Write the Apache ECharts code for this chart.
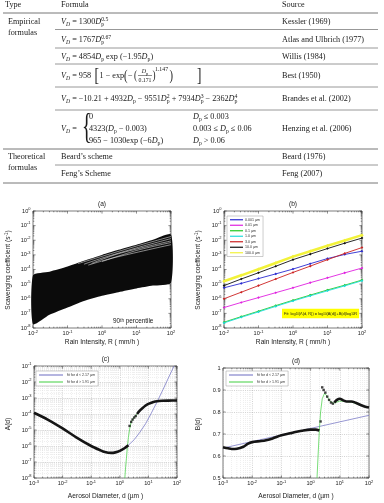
<!DOCTYPE html>
<html><head><meta charset="utf-8">
<script src="https://cdn.jsdelivr.net/npm/echarts@6/dist/echarts.min.js"></script>
<style>html,body{margin:0;padding:0;background:#fff}#c{width:384px;height:503px}</style>
</head><body><div id="c"></div><script>
const FS = 'Liberation Serif', FA = 'Liberation Sans', INK = '#1a1a1a';

// ---------- table ----------
const tableHeader = ['Type', 'Formula', 'Source'];
const tableTypes = [['Empirical', 'formulas'], ['Theoretical', 'formulas']];
const tableSources = ['Kessler (1969)', 'Atlas and Ulbrich (1977)', 'Willis (1984)', 'Best (1950)', 'Brandes et al. (2002)', 'Henzing et al. (2006)', 'Beard (1976)', 'Feng (2007)'];
const tableSchemes = ['Beard\u2019s scheme', 'Feng\u2019s Scheme'];

// ---------- panel (a) ----------
const rainA = [0.01, 0.03, 0.1, 0.3, 1, 3, 10, 30, 100];
const bandUpperA = [4.0e-5, 7.1e-5, 1.6e-4, 4.0e-4, 1.0e-3, 2.2e-3, 5.0e-3, 1.1e-2, 2.5e-2];
const bandLowerA = [1.8e-8, 7.9e-8, 2.5e-7, 7.1e-7, 1.6e-6, 2.8e-6, 5.0e-6, 7.9e-6, 1.26e-5];
const streakR = [[0.2, 1, 10, 100], [0.3, 1, 10, 100], [0.5, 3, 100], [1, 10, 100], [0.4, 2, 100]];
const streakV = [[2.5e-4, 8e-4, 4e-3, 1.8e-2], [2.3e-4, 6e-4, 3e-3, 1.3e-2], [2.6e-4, 1.2e-3, 9e-3], [3.5e-4, 2e-3, 7e-3], [2.0e-4, 6e-4, 5e-3]];

// ---------- panel (b) ----------
const rainB = [0.01, 0.0316, 0.1, 0.316, 1, 3.16, 10, 31.6, 100];
const sizeNames = ['0.001 \u00b5m', '0.01 \u00b5m', '0.1 \u00b5m', '1.0 \u00b5m', '3.0 \u00b5m', '10.0 \u00b5m', '100.0 \u00b5m'];
const sizeColors = ['#2a2ad0', '#e020e0', '#22c822', '#20dcdc', '#cc2020', '#111111', '#f2f23a'];
const lamB = [
  [5.6e-6, 1.12e-5, 2.4e-5, 5.0e-5, 1.07e-4, 2.5e-4, 5.6e-4, 1.07e-3, 1.78e-3],
  [2.5e-7, 5.6e-7, 1.2e-6, 2.6e-6, 5.6e-6, 1.26e-5, 2.7e-5, 5.9e-5, 1.26e-4],
  [2.5e-8, 6.0e-8, 1.41e-7, 3.4e-7, 7.9e-7, 1.78e-6, 4.0e-6, 8.5e-6, 1.9e-5],
  [2.24e-8, 5.4e-8, 1.26e-7, 3.0e-7, 7.1e-7, 1.58e-6, 3.5e-6, 7.6e-6, 1.7e-5],
  [1.0e-6, 2.8e-6, 7.9e-6, 2.24e-5, 6.3e-5, 1.7e-4, 4.7e-4, 1.26e-3, 3.16e-3],
  [7.9e-6, 2.24e-5, 6.0e-5, 1.66e-4, 4.7e-4, 1.12e-3, 2.7e-3, 6.3e-3, 1.41e-2],
  [1.58e-5, 3.98e-5, 1.05e-4, 2.82e-4, 7.6e-4, 1.78e-3, 4.17e-3, 9.5e-3, 2.24e-2]
];

// ---------- panel (c) ----------
const fitNames = ['fit for d < 2.17 \u00b5m', 'fit for d > 1.91 \u00b5m'];
const dLowC = [0.001, 0.003, 0.01, 0.03, 0.1, 0.2, 0.3, 0.5, 0.7, 1, 1.5, 2.0];
const aLowC = [1.2e-4, 4.5e-5, 1.26e-5, 3.5e-6, 1.0e-6, 5.6e-7, 4.2e-7, 3.7e-7, 4.0e-7, 5.0e-7, 7.5e-7, 1.1e-6];
const dJumpC = [2.2, 2.5, 2.8, 3.2, 3.6];
const aJumpC = [1.8e-5, 3.2e-5, 4.5e-5, 6.0e-5, 7.5e-5];
const dHighC = [4, 5, 6, 8, 10, 15, 20, 30, 50, 100];
const aHighC = [1.0e-4, 1.6e-4, 2.2e-4, 3.4e-4, 4.3e-4, 5.6e-4, 6.3e-4, 6.7e-4, 6.9e-4, 7.0e-4];
const dFitLoC = [0.5, 1, 2, 3.2, 5, 8, 12.6, 20, 32, 50, 79];
const aFitLoC = [3.7e-7, 5e-7, 1.12e-6, 2.5e-6, 7.1e-6, 2.5e-5, 1.12e-4, 5.6e-4, 3.2e-3, 1.78e-2, 0.1];
const dFitHiC = [1.5, 1.6, 1.7, 1.85, 2.0, 2.2, 2.5, 3, 4, 6, 10, 20, 50, 100];
const aFitHiC = [1e-8, 5e-8, 1.6e-7, 1.0e-6, 3.5e-6, 1.1e-5, 3.2e-5, 5.6e-5, 1.0e-4, 2.2e-4, 4.3e-4, 6.3e-4, 6.9e-4, 7.0e-4];

// ---------- panel (d) ----------
const dLowD = [0.001, 0.0015, 0.002, 0.003, 0.005, 0.007, 0.01, 0.02, 0.03, 0.05, 0.1, 0.2, 0.3, 0.5, 1, 1.5, 2.0];
const bLowD = [0.64, 0.635, 0.632, 0.633, 0.642, 0.655, 0.663, 0.668, 0.672, 0.68, 0.694, 0.703, 0.709, 0.715, 0.72, 0.72, 0.716];
const dJumpD = [2.2, 2.5, 2.8, 3.2, 3.7, 4.3, 5.0, 5.8];
const bJumpD = [0.757, 0.912, 0.9, 0.888, 0.87, 0.855, 0.843, 0.838];
const dHighD = [6.5, 8, 10, 13, 17, 25, 35, 50, 70, 100];
const bHighD = [0.843, 0.855, 0.86, 0.853, 0.848, 0.848, 0.842, 0.833, 0.825, 0.82];
const dFitLoD = [0.001, 100];
const bFitLoD = [0.636, 0.785];
const dFitHiD = [1.66, 1.8, 2.0, 2.2, 2.5, 3, 3.5, 4.5, 6, 8, 10, 15, 25, 50, 100];
const bFitHiD = [0.5, 0.6, 0.72, 0.8, 0.86, 0.885, 0.875, 0.85, 0.84, 0.845, 0.85, 0.848, 0.845, 0.832, 0.82];
const yTicksD = [0.5, 0.6, 0.7, 0.8, 0.9, 1];

const zip = (a, b) => a.map((v, i) => [v, b[i]]);

// ---------- graphic helpers ----------
const G = [];
function txt(x, y, text, o) {
  o = o || {};
  const st = { text, fontFamily: o.ff || FS, fontSize: o.fs || 8.2, fill: o.fill || INK,
    align: o.align || 'left', verticalAlign: o.va || 'middle', textAlign: o.align || 'left', textVerticalAlign: o.va || 'middle' };
  if (o.rich) st.rich = o.rich;
  if (o.fst) st.fontStyle = o.fst;
  if (o.bg) { st.backgroundColor = o.bg; st.padding = o.pad || [2, 2]; }
  G.push({ type: 'text', x, y, rotation: o.rot || 0, scaleX: o.sx || 1, silent: true, z: 100, style: st });
}
function hline(x1, x2, y, c, w) {
  G.push({ type: 'line', silent: true, z: 99, shape: { x1, y1: y, x2, y2: y }, style: { stroke: c || '#8c8c8c', lineWidth: w || 0.9 } });
}
function RT(fs) {
  const s = fs * 0.7, lh = fs * 1.35;
  return {
    r: { fontFamily: FS, fontSize: fs, lineHeight: lh, fill: INK },
    i: { fontFamily: FS, fontSize: fs, fontStyle: 'italic', lineHeight: lh, fill: INK },
    isub: { fontFamily: FS, fontSize: s, fontStyle: 'italic', verticalAlign: 'bottom', lineHeight: s, fill: INK },
    sub: { fontFamily: FS, fontSize: s, verticalAlign: 'bottom', lineHeight: s, fill: INK },
    sub0: { fontFamily: FS, fontSize: s, verticalAlign: 'bottom', lineHeight: s, width: 0.01, fill: INK },
    sup: { fontFamily: FS, fontSize: s, verticalAlign: 'top', lineHeight: s, fill: INK }
  };
}
const R8 = RT(8.2);
const fx = (x, y, t) => txt(x, y, t, { rich: R8 });

// ---------- table layout ----------
const cT = 5, cF = 61, cS = 282;
txt(cT, 5, tableHeader[0]); txt(cF, 5, tableHeader[1]); txt(cS, 5, tableHeader[2]);
hline(3, 378, 13, '#777', 1);
txt(8, 22, tableTypes[0][0]); txt(8, 33, tableTypes[0][1]);
fx(cF, 22, '{i|V}{isub|D}{r| = 1300}{i|D}{sub0|p}{sup|0.5}'); txt(cS, 22, tableSources[0]);
hline(55, 378, 29.5);
fx(cF, 40, '{i|V}{isub|D}{r| = 1767}{i|D}{sub0|p}{sup|0.67}'); txt(cS, 40, tableSources[1]);
hline(55, 378, 48);
fx(cF, 56.5, '{i|V}{isub|D}{r| = 4854}{i|D}{sub|p}{r| exp (\u22121.95}{i|D}{sub|p}{r|)}'); txt(cS, 56.5, tableSources[2]);
hline(55, 378, 64);
// Best
const bx = -4.5;
fx(cF, 76, '{i|V}{isub|D}{r| = 958}');
txt(99 + bx, 76, '[', { fs: 19, sx: 0.7 });
fx(104 + bx, 76, '{r|1 \u2212 exp}');
txt(128.5 + bx, 76, '(', { fs: 15, sx: 0.7 });
fx(132.5 + bx, 76, '{r|\u2212}');
txt(138.5 + bx, 76, '(', { fs: 13, sx: 0.7 });
txt(149.5 + bx, 71.5, '{i|D}{sub|p}', { rich: RT(6), align: 'center' });
G.push({ type: 'line', silent: true, z: 99, shape: { x1: 142.5 + bx, y1: 75.5, x2: 156.5 + bx, y2: 75.5 }, style: { stroke: INK, lineWidth: 0.5 } });
txt(149.5 + bx, 80, '0.171', { fs: 5.8, align: 'center' });
txt(157 + bx, 76, ')', { fs: 13, sx: 0.7 });
txt(159.5 + bx, 69, '1.147', { fs: 5.8 });
txt(174 + bx, 76, ')', { fs: 15, sx: 0.7 });
txt(197, 76, ']', { fs: 19, sx: 0.7 });
txt(cS, 76, tableSources[3]);
hline(55, 378, 87);
fx(cF, 99, '{i|V}{isub|D}{r| = \u221210.21 + 4932}{i|D}{sub|p}{r| \u2212 9551}{i|D}{sub0|p}{sup|2}{r| + 7934}{i|D}{sub0|p}{sup|3}{r| \u2212 2362}{i|D}{sub0|p}{sup|4}');
txt(cS, 99, tableSources[4]);
hline(55, 378, 110);
// Henzing
fx(cF, 129, '{i|V}{isub|D}{r| =}');
txt(82, 129, '{', { fs: 36, sx: 0.55 });
fx(89, 117, '{r|0}');
fx(89, 129, '{r|4323(}{i|D}{sub|p}{r| \u2212 0.003)}');
fx(89, 141, '{r|965 \u2212 1030exp (\u22126}{i|D}{sub|p}{r|)}');
fx(193, 117, '{i|D}{sub|p}{r| \u2264 0.003}');
fx(193, 129, '{r|0.003 \u2264 }{i|D}{sub|p}{r| \u2264 0.06}');
fx(193, 141, '{i|D}{sub|p}{r| > 0.06}');
txt(cS, 129, tableSources[5]);
hline(3, 378, 149, '#777', 1);
txt(8, 157, tableTypes[1][0]); txt(8, 168, tableTypes[1][1]);
txt(cF, 157, tableSchemes[0]); txt(cS, 157, tableSources[6]);
hline(55, 378, 165);
txt(cF, 174, tableSchemes[1]); txt(cS, 174, tableSources[7]);
hline(3, 378, 183, '#777', 1);

// ---------- panel titles & axis names ----------
const richAx = { s: { fontFamily: FA, fontSize: 4.6, verticalAlign: 'top', lineHeight: 4.6, fill: INK } };
const ttl = (x, y, t) => txt(x, y, t, { ff: FA, fs: 6.6, align: 'center', rich: richAx });
ttl(102, 204.5, '(a)'); ttl(293, 204.5, '(b)'); ttl(105.5, 359.5, '(c)'); ttl(296, 361, '(d)');
ttl(102, 342, 'Rain Intensity, R ( mm/h )'); ttl(293, 342, 'Rain Intensity, R ( mm/h )');
ttl(105.5, 496, 'Aerosol Diameter, d (\u00b5m )'); ttl(296, 496, 'Aerosol Diameter, d (\u00b5m )');
const yttl = (x, y, t) => txt(x, y, t, { ff: FA, fs: 6.6, align: 'center', rot: Math.PI / 2, rich: richAx });
yttl(8, 270, 'Scavenging coefficient (s{s|-1})'); yttl(198, 270, 'Scavenging coefficient (s{s|-1})');
yttl(8, 424, 'A(d)'); yttl(198, 424, 'B(d)');
txt(113, 321.5, '90{s|th} percentile', { ff: FA, fs: 6.4, rich: richAx });
txt(282, 313.5, 'Fit: log{b|10}(\u039b(d, R)) = log{b|10}(A(d))+B(d)log{b|10}R',
  { ff: FA, fs: 3.9, bg: '#ffff00', pad: [3, 2, 2.5, 2], rich: { b: { fontFamily: FA, fontSize: 2.8, verticalAlign: 'bottom', lineHeight: 2.8, fill: INK } } });

// ---------- axes ----------
const labRich = { b: { fontFamily: FA, fontSize: 5.6, color: INK, lineHeight: 8.5 }, s: { fontFamily: FA, fontSize: 4, color: INK, verticalAlign: 'top', lineHeight: 4 } };
const expFmt = v => '{b|10}{s|' + Math.round(Math.log10(v)) + '}';
const gridSplit = { show: true, lineStyle: { color: '#a6a6a6', width: 0.5, type: [1, 1.2] } };
function logAx(gi, min, max, isY, grid) {
  return { type: 'log', logBase: 10, gridIndex: gi, min, max, position: isY ? 'left' : 'bottom',
    axisLine: { show: false }, axisTick: { show: false }, minorTick: { show: false },
    splitLine: grid ? gridSplit : { show: false },
    axisLabel: { formatter: expFmt, rich: labRich, margin: isY ? 2.5 : 1.5, showMinLabel: true, showMaxLabel: true } };
}
const xAxis = [logAx(0, 0.01, 100, false, false), logAx(1, 0.01, 100, false, false), logAx(2, 0.001, 100, false, true), logAx(3, 0.001, 100, false, true)];
const yAxis = [logAx(0, 1e-8, 1, true, false), logAx(1, 1e-8, 1, true, false), logAx(2, 1e-8, 0.1, true, true),
  { type: 'value', gridIndex: 3, min: 0.5, max: 1, interval: 0.1, axisLine: { show: false }, axisTick: { show: false }, splitLine: gridSplit,
    axisLabel: { fontFamily: FA, fontSize: 5.6, color: INK, margin: 2.5 } }];

const gbase = { show: true, borderColor: '#222', borderWidth: 0.6, backgroundColor: 'rgba(0,0,0,0)', containLabel: false, outerBoundsMode: 'none' };
const grid = [
  Object.assign({ left: 33, top: 211, width: 138, height: 117 }, gbase),
  Object.assign({ left: 224, top: 211, width: 138, height: 117 }, gbase),
  Object.assign({ left: 34, top: 366, width: 143, height: 112 }, gbase),
  Object.assign({ left: 223, top: 368, width: 146, height: 110 }, gbase)
];

// ---------- tick decoration (major/minor ticks on all four sides) ----------
function decadeList(min, max) { const a = []; for (let e = Math.round(Math.log10(min)); e <= Math.round(Math.log10(max)); e++) a.push(Math.pow(10, e)); return a; }
function minorList(min, max) { const a = []; for (let e = Math.round(Math.log10(min)); e < Math.round(Math.log10(max)); e++) for (let k = 2; k < 10; k++) a.push(k * Math.pow(10, e)); return a; }
function decor(i, sp) {
  return { type: 'custom', xAxisIndex: i, yAxisIndex: i, silent: true, z: 1, clip: false, data: [[sp.x0, sp.y0]],
    renderItem(params, api) {
      const cs = params.coordSys, L = cs.x, R = cs.x + cs.width, T = cs.y, B = cs.y + cs.height, ch = [];
      const tk = { stroke: '#222', lineWidth: 0.5 }, gm = { stroke: '#d6d6d6', lineWidth: 0.4, lineDash: [1, 1] };
      const ln = (x1, y1, x2, y2, s) => ch.push({ type: 'line', shape: { x1, y1, x2, y2 }, style: s });
      sp.xMinor.forEach(v => { const x = api.coord([v, sp.y0])[0]; if (sp.minorGrid) ln(x, T, x, B, gm); ln(x, B, x, B - 1.3, tk); ln(x, T, x, T + 1.3, tk); });
      sp.yMinor.forEach(v => { const y = api.coord([sp.x0, v])[1]; if (sp.minorGrid) ln(L, y, R, y, gm); ln(L, y, L + 1.3, y, tk); ln(R, y, R - 1.3, y, tk); });
      sp.xMajor.forEach(v => { const x = api.coord([v, sp.y0])[0]; ln(x, B, x, B - 2.6, tk); ln(x, T, x, T + 2.6, tk); });
      sp.yMajor.forEach(v => { const y = api.coord([sp.x0, v])[1]; ln(L, y, L + 2.6, y, tk); ln(R, y, R - 2.6, y, tk); });
      return { type: 'group', children: ch };
    } };
}

// ---------- series ----------
const series = [];
series.push(decor(0, { x0: 0.01, y0: 1e-8, xMajor: decadeList(0.01, 100), xMinor: minorList(0.01, 100), yMajor: decadeList(1e-8, 1), yMinor: minorList(1e-8, 1) }));
series.push(decor(1, { x0: 0.01, y0: 1e-8, xMajor: decadeList(0.01, 100), xMinor: minorList(0.01, 100), yMajor: decadeList(1e-8, 1), yMinor: minorList(1e-8, 1) }));
series.push(decor(2, { x0: 0.001, y0: 1e-8, xMajor: decadeList(0.001, 100), xMinor: minorList(0.001, 100), yMajor: decadeList(1e-8, 0.1), yMinor: minorList(1e-8, 0.1), minorGrid: true }));
series.push(decor(3, { x0: 0.001, y0: 0.5, xMajor: decadeList(0.001, 100), xMinor: minorList(0.001, 100), yMajor: yTicksD, yMinor: [], minorGrid: true }));

// (a) band of curves
series.push({ type: 'custom', xAxisIndex: 0, yAxisIndex: 0, silent: true, z: 3,
  data: rainA.map((r, i) => [r, bandLowerA[i], bandUpperA[i]]), encode: { x: 0, y: [1, 2] },
  renderItem(params, api) {
    if (params.dataIndex !== 0) return null;
    const pts = [];
    for (let i = 0; i < rainA.length; i++) pts.push(api.coord([rainA[i], bandUpperA[i]]));
    for (let i = rainA.length - 1; i >= 0; i--) pts.push(api.coord([rainA[i], bandLowerA[i]]));
    return { type: 'polygon', shape: { points: pts, smooth: 0.2 }, style: { fill: '#0b0b0b' } };
  } });
streakR.forEach((r, k) => series.push({ type: 'line', xAxisIndex: 0, yAxisIndex: 0, z: 4, silent: true, symbol: 'none', smooth: 0.3,
  data: zip(r, streakV[k]), lineStyle: { color: '#ffffff', width: 0.55, opacity: 0.95 } }));

// (b)
lamB.forEach((vals, k) => series.push({ name: sizeNames[k], type: 'line', xAxisIndex: 1, yAxisIndex: 1, z: k === 6 ? 3 : 4,
  data: zip(rainB, vals), symbol: 'diamond', symbolSize: k === 6 ? 3.5 : 2.6, showSymbol: true,
  itemStyle: { color: sizeColors[k] }, lineStyle: { color: sizeColors[k], width: k === 6 ? 2.6 : 0.9 } }));

// (c) & (d)
function fitLine(name, xi, d, v, color) {
  return { name, type: 'line', xAxisIndex: xi, yAxisIndex: xi, z: 3, symbol: 'none', data: zip(d, v), itemStyle: { color }, lineStyle: { color, width: 0.7 } };
}
function dotLine(xi, d, v) {
  return { type: 'line', xAxisIndex: xi, yAxisIndex: xi, z: 5, symbol: 'none', smooth: 0.3, data: zip(d, v), lineStyle: { color: '#151515', width: 2.6 } };
}
function dots(xi, d, v) {
  return { type: 'scatter', xAxisIndex: xi, yAxisIndex: xi, z: 5, symbol: 'rect', symbolSize: 2.4, data: zip(d, v), itemStyle: { color: '#151515' } };
}
series.push(fitLine(fitNames[0], 2, dFitLoC, aFitLoC, '#6b6bc0'));
series.push(fitLine(fitNames[1], 2, dFitHiC, aFitHiC, '#3fcf3f'));
series.push(dotLine(2, dLowC, aLowC), dots(2, dJumpC, aJumpC), dotLine(2, dHighC, aHighC));
series.push(fitLine(fitNames[0], 3, dFitLoD, bFitLoD, '#6b6bc0'));
series.push(fitLine(fitNames[1], 3, dFitHiD, bFitHiD, '#3fcf3f'));
series.push(dotLine(3, dLowD, bLowD), dots(3, dJumpD, bJumpD), dotLine(3, dHighD, bHighD));

// ---------- legends ----------
const legBase = { orient: 'vertical', selectedMode: false, icon: 'rect', itemGap: 0, backgroundColor: '#fff',
  borderColor: '#9a9a9a', borderWidth: 0.5, borderRadius: 0 };
const legend = [
  Object.assign({}, legBase, { data: sizeNames, left: 227, top: 216, itemWidth: 13, itemHeight: 1.2, padding: [1, 3, 1, 3],
    textStyle: { fontFamily: FA, fontSize: 3.6, lineHeight: 5.5, color: '#333', padding: [0, 0, 0, -3] } }),
  Object.assign({}, legBase, { data: fitNames, left: 36, top: 371, itemWidth: 24, itemHeight: 1, padding: [0.5, 3, 0.5, 3],
    textStyle: { fontFamily: FA, fontSize: 3.6, lineHeight: 7, color: '#333', padding: [0, 0, 0, -1] } }),
  Object.assign({}, legBase, { data: fitNames, left: 226, top: 371, itemWidth: 24, itemHeight: 1, padding: [0.5, 3, 0.5, 3],
    textStyle: { fontFamily: FA, fontSize: 3.6, lineHeight: 7, color: '#333', padding: [0, 0, 0, -1] } })
];

const chart = echarts.init(document.getElementById('c'), null, { renderer: 'canvas' });
chart.setOption({ animation: false, backgroundColor: '#fff', grid, xAxis, yAxis, series, legend, graphic: { elements: G } });
</script></body></html>
